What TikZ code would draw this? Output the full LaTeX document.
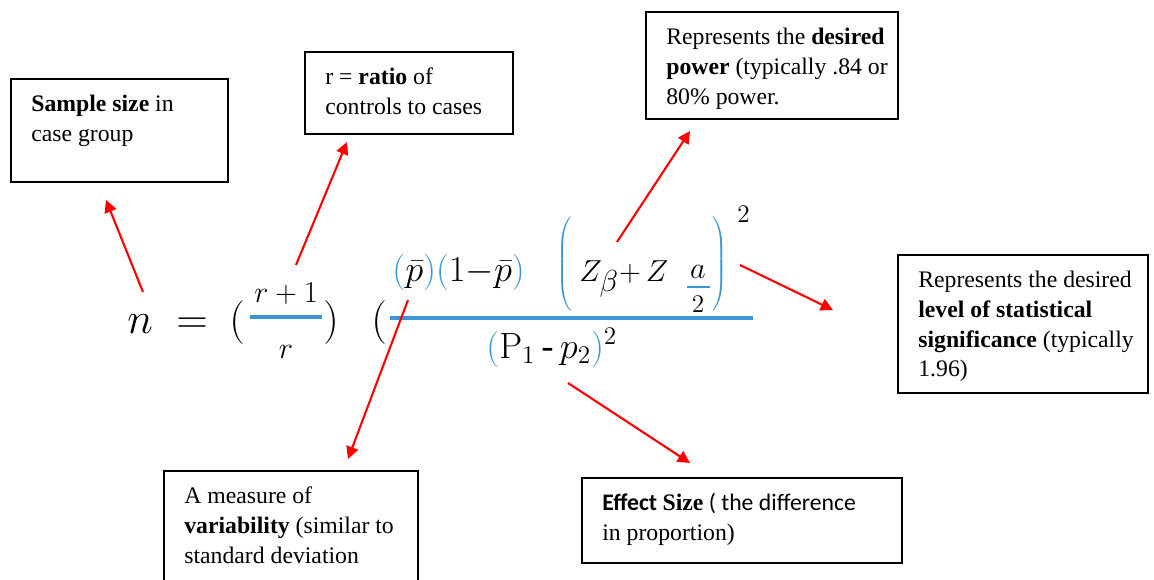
\documentclass[tikz,border=0pt]{standalone}
\usepackage[no-math]{fontspec}
\setmainfont{Liberation Serif}
\newfontfamily\calibrifont{Carlito}
\usetikzlibrary{positioning,arrows.meta}
\definecolor{eqblue}{RGB}{58,150,212}
\newcommand{\eqb}[1]{{\color{eqblue}#1}}
\tikzset{
  notebox/.style={draw,line width=1pt,anchor=north west,inner sep=0pt},
  notetext/.style={anchor=north west,align=left,inner sep=0pt,font=\fontsize{13.5}{17}\selectfont},
  callout/.style={-{Triangle[length=7pt,width=7pt]},red,line width=1.2pt},
  bigeq/.style={anchor=base west,inner sep=0pt,font=\fontsize{30}{36}\selectfont},
  eqpart/.style={anchor=base west,inner sep=0pt,font=\fontsize{21}{25}\selectfont},
  smalleq/.style={anchor=base,inner sep=0pt,font=\fontsize{17}{20}\selectfont},
  eqbar/.style={eqblue,line width=2.2pt},
}
\begin{document}
\begin{tikzpicture}[x=0.02cm,y=-0.02cm]
  \useasboundingbox (0,0) rectangle (1154,579);
  % note boxes
  \node[notebox,minimum width=4.34cm,minimum height=2.06cm] (sizebox) at (10,78) {};
  \node[notetext] (sizetext) at ([shift={(21,12)}]sizebox.north west)
    {\strut\textbf{Sample size} in\\case group};
  \node[notebox,minimum width=4.16cm,minimum height=1.64cm] (ratiobox) at (304,51) {};
  \node[notetext] (ratiotext) at ([shift={(21,12)}]ratiobox.north west)
    {\strut r = \textbf{ratio} of\\controls to cases};
  \node[notebox,minimum width=5.04cm,minimum height=2.14cm] (powerbox) at (645,11) {};
  \node[notetext] (powertext) at ([shift={(21,12)}]powerbox.north west)
    {\strut Represents the \textbf{desired}\\\textbf{power} (typically .84 or\\80\% power.};
  \node[notebox,minimum width=5.00cm,minimum height=2.76cm] (alphabox) at (897,254) {};
  \node[notetext] (alphatext) at ([shift={(21,12)}]alphabox.north west)
    {\strut Represents the desired\\\textbf{level of statistical}\\\textbf{significance} (typically\\1.96)};
  \node[notebox,minimum width=5.08cm,minimum height=2.6cm] (varbox) at (163,470) {};
  \node[notetext] (vartext) at ([shift={(21,12)}]varbox.north west)
    {\strut A measure of\\\textbf{variability} (similar to\\standard deviation};
  \node[notebox,minimum width=6.40cm,minimum height=1.70cm] (effectbox) at (581,477) {};
  \node[notetext] (effecttext) at ([shift={(21,12)}]effectbox.north west)
    {\calibrifont\strut\textbf{Effect} {\rmfamily\bfseries Size} ( the difference\\in proportion)};

  % the sample size formula
  \node[bigeq] (nvar) at (127,333) {$n$};
  \node[bigeq] (eqsign) at (176,333) {$=$};
  \node[bigeq] (lparA) at (229,333) {$($};
  \node[smalleq] (rnum) at (286,302) {$r+1$};
  \node[smalleq] (rden) at (286,358) {$r$};
  \draw[eqbar] (250,317) -- (322,317);
  \node[bigeq] (rparA) at (323,333) {$)$};
  \node[bigeq] (lparB) at (371,333) {$($};
  \draw[eqbar,line width=2.4pt] (390,318) -- (753,318);
  \node[eqpart] (pterm) at (392,281) {$\eqb{(}\bar{p}\eqb{)}\eqb{(}1{-}\bar{p}\eqb{)}$};
  \node[eqpart,font=\fontsize{18}{22}\selectfont] (lparC) at (556,272)
    {$\eqb{\left(\vrule height 31.5pt depth 22.5pt width 0pt\right.}$};
  \node[eqpart,font=\fontsize{18}{22}\selectfont] (zsum) at (579,281)
    {$Z_{\mbox{\fontsize{17}{20}\selectfont$\beta$}}{+}\,Z$};
  \node[smalleq] (aterm) at (698,278) {$a$};
  \draw[eqbar,line width=1.5pt] (687,287) -- (710,287);
  \node[smalleq,font=\fontsize{14}{17}\selectfont] (twoterm) at (698,312) {$2$};
  \node[eqpart,font=\fontsize{18}{22}\selectfont] (rparC) at (710,272)
    {$\eqb{\left.\vrule height 31.5pt depth 22.5pt width 0pt\right)}$};
  \node[eqpart,font=\fontsize{14}{17}\selectfont] (sqterm) at (737,222) {$2$};
  \node[eqpart] (pdiff) at (486,358) {$\eqb{(}\mathrm{P}_1\,\mbox{-}\,p_2\eqb{)}^2$};

  % arrow ends
  \coordinate (nfoot) at (143,292);     \coordinate (sizetip) at (106,200);
  \coordinate (fracfoot) at (296,265);  \coordinate (ratiotip) at (347,142);
  \coordinate (betafoot) at (617,242);  \coordinate (powertip) at (690,131);
  \coordinate (parenfoot) at (740,265); \coordinate (alphatip) at (833,310);
  \coordinate (pbarfoot) at (408,300);  \coordinate (vartip) at (348,459);
  \coordinate (difffoot) at (568,383);  \coordinate (effecttip) at (690,463);
  \draw[callout] (nfoot) -- (sizetip);
  \draw[callout] (fracfoot) -- (ratiotip);
  \draw[callout] (betafoot) -- (powertip);
  \draw[callout] (parenfoot) -- (alphatip);
  \draw[callout] (pbarfoot) -- (vartip);
  \draw[callout] (difffoot) -- (effecttip);
\end{tikzpicture}
\end{document}
